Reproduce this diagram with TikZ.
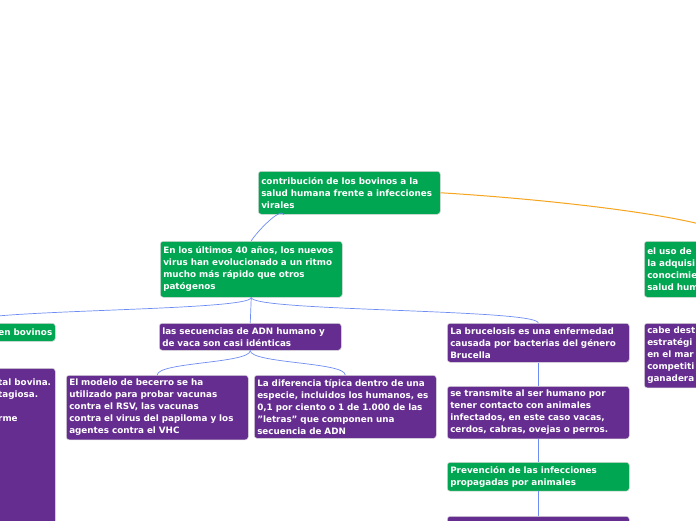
\documentclass[tikz,border=0pt]{standalone}
\usepackage{fontspec}
\setmainfont{DejaVu Sans}
\usetikzlibrary{calc}
\definecolor{mmgreen}{RGB}{0,166,81}
\definecolor{mmpurple}{RGB}{102,45,145}
\definecolor{mmblue}{RGB}{110,140,245}
\definecolor{mmorange}{RGB}{247,165,30}
\hyphenpenalty=10000
\exhyphenpenalty=10000
\tikzset{
  mmfont/.style={font=\fontsize{8.8}{12}\selectfont\bfseries},
  mmbox/.style={rounded corners=3pt, anchor=north west, inner xsep=3pt, inner ysep=4pt,
    align=left, text=white, text width=176pt, draw=black!15, line width=0.5pt, mmfont},
  gbox/.style={mmbox, fill=mmgreen},
  pbox/.style={mmbox, fill=mmpurple},
  bl/.style={draw=mmblue, line width=0.7pt},
  ol/.style={draw=mmorange, line width=1pt},
}
\begin{document}
\begin{tikzpicture}[x=1pt,y=-1pt]
\useasboundingbox (0,0) rectangle (696,520);
\clip (0,0) rectangle (696,520);
\fill[white] (0,0) rectangle (696,520);

\node[gbox, minimum height=43pt] (root) at (258,171) {contribución de los bovinos a la\\salud humana frente a infecciones\\virales};
\node[gbox, minimum height=56pt] (n2) at (160,241) {En los últimos 40 años, los nuevos\\virus han evolucionado a un ritmo\\mucho más rápido que otros\\patógenos};
\node[gbox, minimum height=18pt, align=right] (n3) at (-127,323) {en bovinos};
\node[pbox, minimum height=200pt] (n4) at (-127,368) {};
\node[anchor=north west, inner sep=0pt, align=left, text=white, mmfont] (n4t) at (-2,379) {tal bovina.\\tagiosa.\\[12pt]rme};
\node[pbox, minimum height=27pt] (n5) at (159,323) {las secuencias de ADN humano y\\de vaca son casi idénticas};
\node[pbox, minimum height=60pt] (n6) at (66,375) {El modelo de becerro se ha\\utilizado para probar vacunas\\contra el RSV, las vacunas\\contra el virus del papiloma y los\\agentes contra el VHC};
\node[pbox, minimum height=61pt] (n7) at (254,375) {La diferencia típica dentro de una\\especie, incluidos los humanos, es\\0,1 por ciento o 1 de 1.000 de las\\\symbol{34}letras\symbol{34} que componen una\\secuencia de ADN};
\node[pbox, minimum height=39pt] (n8) at (447,323) {La brucelosis es una enfermedad\\causada por bacterias del género\\Brucella};
\node[pbox, minimum height=49pt] (n9) at (447,386) {se transmite al ser humano por\\tener contacto con animales\\infectados, en este caso vacas,\\cerdos, cabras, ovejas o perros.};
\node[gbox, minimum height=28pt] (n10) at (447,462) {Prevención de las infecciones\\propagadas por animales};
\node[pbox, minimum height=50pt] (n11) at (447,516) {};
\node[gbox, minimum height=56pt] (n12) at (644,241) {el uso de\\la adquisi\\conocimie\\salud hum};
\node[pbox, minimum height=59pt] (n13) at (644,323) {cabe dest\\estratégi\\en el mar\\competiti\\ganadera};

% connectors
\draw[bl] ([xshift=26pt]root.south west) .. controls ([xshift=22pt,yshift=8pt]root.south west) and ($(n2.north)+(3,-6)$) .. (n2.north);
\draw[ol] (root.east) .. controls (560,200) and (735,220) .. (n12.north);
\draw[bl] (n2.south) .. controls ($(n2.south)+(0,14)$) and ($(n3.north)+(0,-14)$) .. (n3.north);
\draw[bl] (n2.south) -- (n5.north);
\draw[bl] (n2.south) .. controls ($(n2.south)+(0,14)$) and ($(n8.north)+(0,-14)$) .. (n8.north);
\draw[bl] (n3.south) -- (n4.north);
\draw[bl] (n5.south) .. controls ($(n5.south)+(0,13)$) and ($(n6.north)+(0,-13)$) .. (n6.north);
\draw[bl] (n5.south) .. controls ($(n5.south)+(0,13)$) and ($(n7.north)+(0,-13)$) .. (n7.north);
\draw[bl] (n8.south) -- (n9.north);
\draw[bl] (n9.south) -- (n10.north);
\draw[bl] (n10.south) -- (n11.north);
\draw[bl] (n12.south) -- (n13.north);
\end{tikzpicture}
\end{document}
